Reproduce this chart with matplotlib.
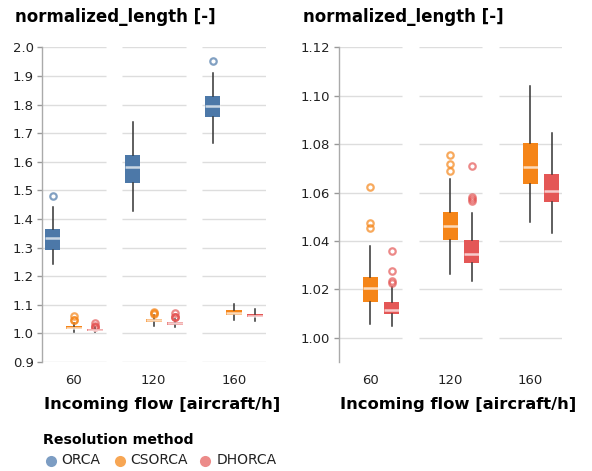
import matplotlib
matplotlib.use("Agg")
import matplotlib.pyplot as plt

plt.rcParams["font.family"] = ["DejaVu Sans"]

flows = ["60", "120", "160"]
methods = ["ORCA", "CSORCA", "DHORCA"]
box_colors = {"ORCA": "#4c78a8", "CSORCA": "#f58518", "DHORCA": "#e45756"}
legend_colors = {"ORCA": "#7c9dc3", "CSORCA": "#f7a654", "DHORCA": "#ec8b89"}

# Box summaries per incoming flow (60, 120, 160)
orca_whislo = [1.243, 1.428, 1.667]
orca_q1 = [1.293, 1.527, 1.757]
orca_med = [1.333, 1.583, 1.796]
orca_q3 = [1.364, 1.623, 1.829]
orca_whishi = [1.443, 1.738, 1.909]
orca_fliers = [[1.480], [], [1.951]]

csorca_whislo = [1.0057, 1.0262, 1.0478]
csorca_q1 = [1.0149, 1.0405, 1.0634]
csorca_med = [1.0205, 1.0462, 1.0707]
csorca_q3 = [1.0250, 1.0519, 1.0803]
csorca_whishi = [1.0379, 1.0656, 1.1039]
csorca_fliers = [[1.0455, 1.0475, 1.0623], [1.0689, 1.0717, 1.0755], []]

dhorca_whislo = [1.0050, 1.0236, 1.0431]
dhorca_q1 = [1.0099, 1.0310, 1.0562]
dhorca_med = [1.0114, 1.0346, 1.0607]
dhorca_q3 = [1.0148, 1.0404, 1.0675]
dhorca_whishi = [1.0211, 1.0514, 1.0845]
dhorca_fliers = [[1.0225, 1.0236, 1.0274, 1.0358],
                 [1.0564, 1.0572, 1.0580, 1.0711], []]

left_yticks = [0.9, 1.0, 1.1, 1.2, 1.3, 1.4, 1.5, 1.6, 1.7, 1.8, 1.9, 2.0]
right_yticks = [1.00, 1.02, 1.04, 1.06, 1.08, 1.10, 1.12]


def summaries(whislo, q1, med, q3, whishi, fliers):
    return [dict(whislo=whislo[i], q1=q1[i], med=med[i], q3=q3[i],
                 whishi=whishi[i], fliers=fliers[i]) for i in range(len(flows))]


stats = {
    "ORCA": summaries(orca_whislo, orca_q1, orca_med, orca_q3, orca_whishi, orca_fliers),
    "CSORCA": summaries(csorca_whislo, csorca_q1, csorca_med, csorca_q3, csorca_whishi, csorca_fliers),
    "DHORCA": summaries(dhorca_whislo, dhorca_q1, dhorca_med, dhorca_q3, dhorca_whishi, dhorca_fliers),
}

W, H = 592, 471
fig = plt.figure(figsize=(W / 100, H / 100), dpi=100)

FACET_W = 63.5
FACET_STEP = 80.0
BAND = FACET_W / 3
TOTAL = 2 * FACET_STEP + FACET_W


def px_axes(x0, y0, x1, y1):
    return fig.add_axes([x0 / W, 1 - y1 / H, (x1 - x0) / W, (y1 - y0) / H])


def draw_panel(ax, shown, yticks, ylim, fmt):
    ax.set_xlim(0, TOTAL)
    ax.set_ylim(*ylim)
    for v in yticks:
        for f in range(len(flows)):
            s = f * FACET_STEP
            ax.hlines(v, s, s + FACET_W, color="#dddddd", lw=1, zorder=0)
    for m in shown:
        mi = methods.index(m)
        pos = [f * FACET_STEP + BAND * (mi + 0.5) for f in range(len(flows))]
        c = box_colors[m]
        ax.bxp(stats[m], positions=pos, widths=15.5, patch_artist=True,
               showcaps=False, manage_ticks=False,
               boxprops=dict(facecolor=c, edgecolor="none", lw=0),
               medianprops=dict(color="white", alpha=0.7, lw=1.8, solid_capstyle="butt"),
               whiskerprops=dict(color="#333333", lw=1.1),
               flierprops=dict(marker="o", markerfacecolor="none",
                               markeredgecolor=c, alpha=0.7,
                               markersize=4.6, markeredgewidth=1.6))
    ax.set_yticks(yticks)
    ax.set_yticklabels([fmt.format(v) for v in yticks])
    ax.set_xticks([f * FACET_STEP + FACET_W / 2 for f in range(len(flows))])
    ax.set_xticklabels(flows)
    ax.tick_params(axis="x", length=0, pad=9, labelsize=9.5, labelcolor="#222222")
    ax.tick_params(axis="y", length=3.5, width=1, color="#999999", pad=2.5,
                   labelsize=9.5, labelcolor="#222222")
    for side in ("top", "right", "bottom"):
        ax.spines[side].set_visible(False)
    ax.spines["left"].set_color("#aaaaaa")
    ax.spines["left"].set_linewidth(1)
    ax.patch.set_visible(False)


axL = px_axes(42, 47.3, 42 + TOTAL, 362)
draw_panel(axL, methods, left_yticks, (0.9, 2.0), "{:.1f}")

axR = px_axes(338.7, 47.3, 338.7 + TOTAL, 361.7)
draw_panel(axR, ["CSORCA", "DHORCA"], right_yticks, (0.9901, 1.12), "{:.2f}")

# Panel titles and x-axis titles
for x in (15, 302.7):
    fig.text(x / W, 1 - 17 / H, "normalized_length [-]", fontsize=12,
             fontweight="bold", ha="left", va="center")
for x in (162, 458):
    fig.text(x / W, 1 - 405 / H, "Incoming flow [aircraft/h]", fontsize=11.8,
             fontweight="bold", ha="center", va="center")

# Legend
lg = fig.add_axes([0, 0, 1, 1])
lg.set_xlim(0, W)
lg.set_ylim(H, 0)
lg.axis("off")
lg.text(43.3, 440, "Resolution method", fontsize=10.2, fontweight="bold",
        ha="left", va="center")
for m, cx, tx in zip(methods, (50.5, 119.5, 205), (61.7, 130, 216.5)):
    lg.plot([cx], [460.5], marker="o", markersize=8, color=legend_colors[m],
            markeredgewidth=0, linestyle="none")
    lg.text(tx, 460.5, m, fontsize=10, ha="left", va="center", color="#222222")

fig.savefig("out.png", dpi=100)
